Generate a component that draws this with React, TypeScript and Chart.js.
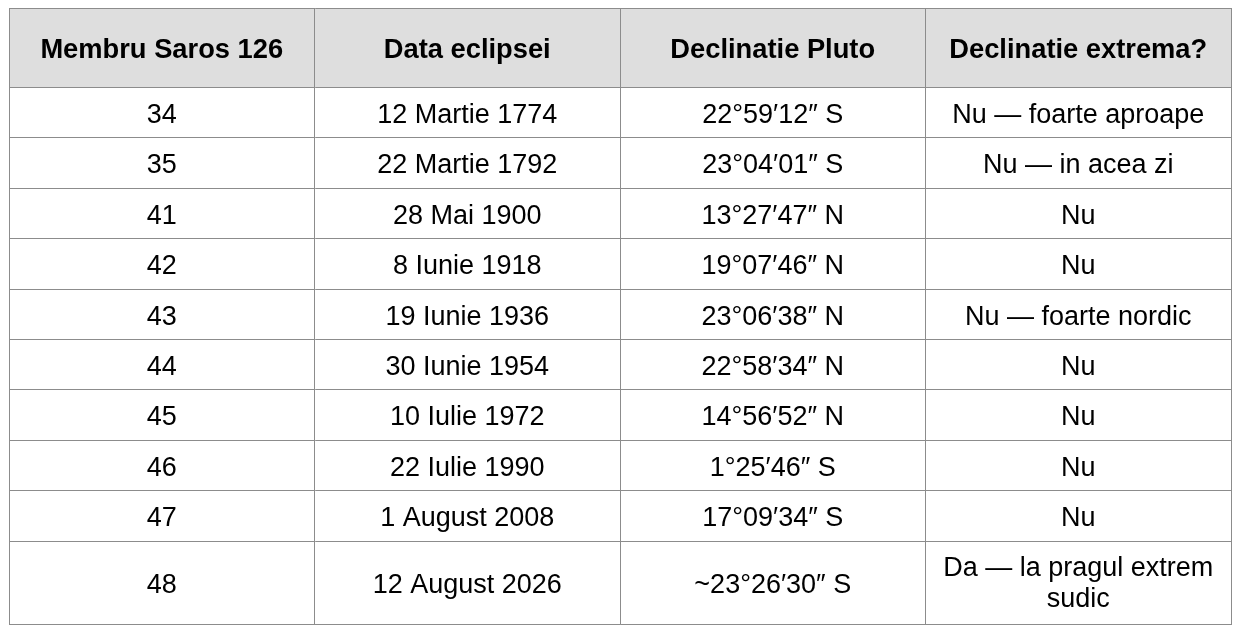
import React, { useEffect, useRef } from "react";
import { Chart, registerables } from "chart.js";

Chart.register(...registerables);

const headers = ["Membru Saros 126", "Data eclipsei", "Declinatie Pluto", "Declinatie extrema?"];
const members = ["34", "35", "41", "42", "43", "44", "45", "46", "47", "48"];
const dates = [
  "12 Martie 1774",
  "22 Martie 1792",
  "28 Mai 1900",
  "8 Iunie 1918",
  "19 Iunie 1936",
  "30 Iunie 1954",
  "10 Iulie 1972",
  "22 Iulie 1990",
  "1 August 2008",
  "12 August 2026",
];
const declinations = [
  "22°59′12″ S",
  "23°04′01″ S",
  "13°27′47″ N",
  "19°07′46″ N",
  "23°06′38″ N",
  "22°58′34″ N",
  "14°56′52″ N",
  "1°25′46″ S",
  "17°09′34″ S",
  "~23°26′30″ S",
];
const extremes = [
  "Nu — foarte aproape",
  "Nu — in acea zi",
  "Nu",
  "Nu",
  "Nu — foarte nordic",
  "Nu",
  "Nu",
  "Nu",
  "Nu",
  "Da — la pragul extrem sudic",
];

const FONT_FAMILY = "'Liberation Sans', Arial, sans-serif";
const FONT_SIZE = 27;
const HEADER_FONT_SIZE = 27.3;
const LINE_GAP = 31;
const HEADER_H = 79.5;
const ROW_H = 50.4;
const ROW_H_2 = 83;
const GRID_COLOR = "#8c8c8c";
const HEADER_BG = "#dedede";
const TEXT_COLOR = "#000000";
const CELL_PAD = 10;

function wrap(ctx: CanvasRenderingContext2D, text: string, maxW: number): string[] {
  const words = text.split(" ");
  const lines: string[] = [];
  let cur = "";
  for (const w of words) {
    const test = cur ? cur + " " + w : w;
    if (ctx.measureText(test).width > maxW && cur) {
      lines.push(cur);
      cur = w;
    } else {
      cur = test;
    }
  }
  if (cur) lines.push(cur);
  return lines;
}

export default function App() {
  const ref = useRef<HTMLCanvasElement | null>(null);

  useEffect(() => {
    const canvas = ref.current;
    if (!canvas) return;
    let chart: Chart | null = null;
    let cancelled = false;

    const build = () => {
      if (cancelled) return;
      const rows = members.map((m, i) => [m, dates[i], declinations[i], extremes[i]]);
      const mctx = document.createElement("canvas").getContext("2d")!;
      mctx.font = `${FONT_SIZE}px ${FONT_FAMILY}`;
      const colWidthGuess = 1222 / headers.length;
      const lineCounts = rows.map((r) =>
        Math.max(...r.map((t) => wrap(mctx, t, colWidthGuess - 2 * CELL_PAD).length))
      );
      const heights = [HEADER_H, ...lineCounts.map((n) => (n > 1 ? ROW_H_2 : ROW_H))];
      const bounds: number[] = [0];
      heights.forEach((h) => bounds.push(bounds[bounds.length - 1] + h));
      const total = bounds[bounds.length - 1];
      const colBounds = headers.map((_, i) => i).concat([headers.length]);

      const tablePlugin = {
        id: "tablePlugin",
        beforeDatasetsDraw(ch: any) {
          const { ctx, scales } = ch;
          const x = scales.x;
          const y = scales.y;
          ctx.save();
          ctx.fillStyle = HEADER_BG;
          const top = y.getPixelForValue(bounds[0]);
          const bot = y.getPixelForValue(bounds[1]);
          ctx.fillRect(x.left, top, x.right - x.left, bot - top);
          ctx.restore();
        },
        afterDraw(ch: any) {
          const { ctx, scales } = ch;
          const x = scales.x;
          const y = scales.y;
          ctx.save();
          ctx.fillStyle = TEXT_COLOR;
          ctx.textAlign = "center";
          ctx.textBaseline = "alphabetic";
          const all = [headers, ...rows];
          all.forEach((row, ri) => {
            const cy = y.getPixelForValue((bounds[ri] + bounds[ri + 1]) / 2);
            const fs = ri === 0 ? HEADER_FONT_SIZE : FONT_SIZE;
            ctx.font = `${ri === 0 ? "bold " : ""}${fs}px ${FONT_FAMILY}`;
            row.forEach((text, ci) => {
              const cx = x.getPixelForValue(ci + 0.5);
              const cw = x.getPixelForValue(ci + 1) - x.getPixelForValue(ci);
              const lines = wrap(ctx, text, cw - 2 * CELL_PAD);
              const n = lines.length;
              const off = n > 1 ? -1 : 0;
              lines.forEach((ln, li) => {
                const lineMid = cy + off + (li - (n - 1) / 2) * LINE_GAP;
                ctx.fillText(ln, cx, lineMid + 0.358 * fs + 0.6);
              });
            });
          });
          ctx.restore();
        },
      };

      chart = new Chart(canvas, {
        type: "scatter",
        data: { datasets: [] },
        options: {
          animation: false,
          responsive: true,
          maintainAspectRatio: false,
          layout: { padding: { left: 9, top: 8, right: 13, bottom: 12 } },
          plugins: { legend: { display: false }, tooltip: { enabled: false } },
          scales: {
            x: {
              type: "linear",
              position: "bottom",
              min: 0,
              max: headers.length,
              afterBuildTicks: (scale: any) => {
                scale.ticks = colBounds.map((v) => ({ value: v }));
              },
              ticks: { display: false },
              grid: { color: GRID_COLOR, lineWidth: 1, drawTicks: false, z: 1 },
              border: { display: true, color: GRID_COLOR, width: 1, z: 1 },
            },
            y: {
              type: "linear",
              position: "left",
              min: 0,
              max: total,
              reverse: true,
              afterBuildTicks: (scale: any) => {
                scale.ticks = bounds.map((v) => ({ value: v }));
              },
              ticks: { display: false },
              grid: { color: GRID_COLOR, lineWidth: 1, drawTicks: false, z: 1 },
              border: { display: true, color: GRID_COLOR, width: 1, z: 1 },
            },
          },
        },
        plugins: [tablePlugin],
      } as any);
    };

    const fonts: any = (document as any).fonts;
    if (fonts && fonts.load) {
      Promise.all([
        fonts.load(`${FONT_SIZE}px 'Liberation Sans'`),
        fonts.load(`bold ${HEADER_FONT_SIZE}px 'Liberation Sans'`),
      ])
        .catch(() => null)
        .then(build);
    } else {
      build();
    }

    return () => {
      cancelled = true;
      if (chart) chart.destroy();
    };
  }, []);

  return (
    <div style={{ position: "absolute", left: 0, top: 0, width: 1244, height: 636, background: "#ffffff" }}>
      <canvas ref={ref} />
    </div>
  );
}
